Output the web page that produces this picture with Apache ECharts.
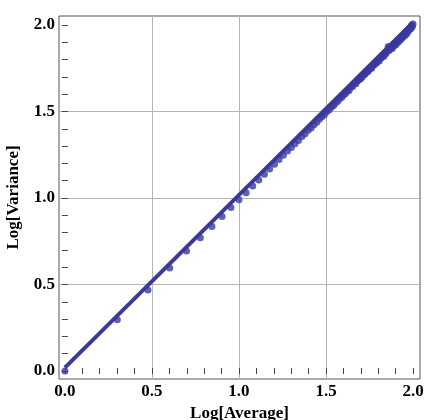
<!DOCTYPE html>
<html>
<head>
<meta charset="utf-8">
<script src="https://cdn.jsdelivr.net/npm/echarts@6/dist/echarts.min.js"></script>
<style>
  html, body { margin: 0; padding: 0; background: #fff; }
  #chart { width: 424px; height: 420px; }
</style>
</head>
<body>
<div id="chart"></div>
<script>
// log10 of the averages (x) and of the variances (y)
var logAverage = [
  0.000, 0.301, 0.477, 0.602, 0.699, 0.778, 0.845, 0.903, 0.954, 1.000,
  1.041, 1.079, 1.114, 1.146, 1.176, 1.204, 1.230, 1.255, 1.279, 1.301,
  1.322, 1.342, 1.362, 1.380, 1.398, 1.415, 1.431, 1.447, 1.462, 1.477,
  1.491, 1.505, 1.519, 1.531, 1.544, 1.556, 1.568, 1.580, 1.591, 1.602,
  1.613, 1.623, 1.633, 1.643, 1.653, 1.663, 1.672, 1.681, 1.690, 1.699,
  1.708, 1.716, 1.724, 1.732, 1.740, 1.748, 1.756, 1.763, 1.771, 1.778,
  1.785, 1.792, 1.799, 1.806, 1.813, 1.820, 1.826, 1.833, 1.839, 1.845,
  1.851, 1.857, 1.863, 1.869, 1.875, 1.881, 1.886, 1.892, 1.898, 1.903,
  1.908, 1.914, 1.919, 1.924, 1.929, 1.934, 1.940, 1.944, 1.949, 1.954,
  1.959, 1.964, 1.968, 1.973, 1.978, 1.982, 1.987, 1.991, 1.996, 2.000
];
var logVariance = [
  0.000, 0.296, 0.468, 0.595, 0.694, 0.770, 0.836, 0.893, 0.945, 0.990,
  1.031, 1.070, 1.104, 1.137, 1.167, 1.195, 1.222, 1.247, 1.272, 1.292,
  1.314, 1.333, 1.355, 1.371, 1.392, 1.405, 1.424, 1.438, 1.455, 1.470,
  1.481, 1.499, 1.510, 1.524, 1.535, 1.550, 1.560, 1.575, 1.582, 1.597,
  1.604, 1.618, 1.622, 1.640, 1.645, 1.660, 1.660, 1.676, 1.683, 1.690,
  1.700, 1.712, 1.716, 1.728, 1.730, 1.742, 1.752, 1.750, 1.768, 1.770,
  1.781, 1.782, 1.796, 1.792, 1.808, 1.812, 1.822, 1.820, 1.836, 1.835,
  1.848, 1.875, 1.852, 1.862, 1.872, 1.864, 1.884, 1.880, 1.896, 1.888,
  1.905, 1.900, 1.916, 1.910, 1.928, 1.920, 1.938, 1.932, 1.948, 1.940,
  1.960, 1.950, 1.970, 1.962, 1.975, 1.984, 1.978, 1.998, 1.990, 2.006
];
// least-squares fit line, endpoints
var fitX = [0.0, 2.0];
var fitY = [0.02, 2.015];

var majorTicks = [0, 0.5, 1, 1.5, 2];
var minorTicks = [];
for (var t = 0; t <= 20; t++) minorTicks.push(t / 10);
var gridTicks = [0.5, 1, 1.5];

var ink = '#3a3a9c';
var labelFont = {
  fontFamily: 'Liberation Serif',
  fontWeight: 'bold',
  fontSize: 17,
  color: '#000'
};

var points = logAverage.map(function (x, i) { return [x, logVariance[i]]; });
var fitLine = fitX.map(function (x, i) { return [x, fitY[i]]; });

var xRange = { min: -0.034, max: 2.04 };
var yRange = { min: -0.046, max: 2.052 };

function mainAxis(range, pos, name, gap, rotate) {
  return {
    type: 'value', position: pos, min: range.min, max: range.max,
    name: name, nameLocation: 'middle', nameGap: gap, nameRotate: rotate,
    nameTextStyle: labelFont,
    axisLine: { show: false },
    axisTick: { show: true, inside: true, length: 3, customValues: minorTicks,
      lineStyle: { color: '#444' } },
    axisLabel: Object.assign({ customValues: majorTicks, margin: 4,
      formatter: function (v) { return v.toFixed(1); } }, labelFont),
    splitLine: { show: false }
  };
}
function mirrorAxis(range, pos) {
  return {
    type: 'value', position: pos, min: range.min, max: range.max,
    axisLine: { show: false },
    axisTick: { show: true, inside: true, length: 3, customValues: minorTicks,
      lineStyle: { color: '#444' } },
    axisLabel: { show: false },
    splitLine: { show: false }
  };
}
function gridAxis(range, pos) {
  return {
    type: 'value', position: pos, min: range.min, max: range.max,
    axisLine: { show: false },
    axisTick: { show: false, customValues: gridTicks },
    axisLabel: { show: false },
    splitLine: { show: true, lineStyle: { color: '#b4b4b4', width: 1 } }
  };
}

var chart = echarts.init(document.getElementById('chart'));
chart.setOption({
  animation: false,
  grid: {
    left: 59, top: 16, right: 4, bottom: 41,
    outerBoundsMode: 'none', containLabel: false,
    show: true, borderColor: '#555', borderWidth: 1, backgroundColor: '#fff'
  },
  xAxis: [
    mainAxis(xRange, 'bottom', 'Log[Average]', 25, 0),
    mirrorAxis(xRange, 'top'),
    gridAxis(xRange, 'bottom')
  ],
  yAxis: [
    mainAxis(yRange, 'left', 'Log[Variance]', 37, 90),
    mirrorAxis(yRange, 'right'),
    gridAxis(yRange, 'left')
  ],
  series: [
    {
      type: 'line', data: fitLine, xAxisIndex: 0, yAxisIndex: 0,
      showSymbol: false, lineStyle: { color: ink, width: 4 }, z: 3
    },
    {
      type: 'scatter', data: points, xAxisIndex: 0, yAxisIndex: 0,
      symbolSize: 7, itemStyle: { color: ink }, z: 4
    }
  ]
});
</script>
</body>
</html>
